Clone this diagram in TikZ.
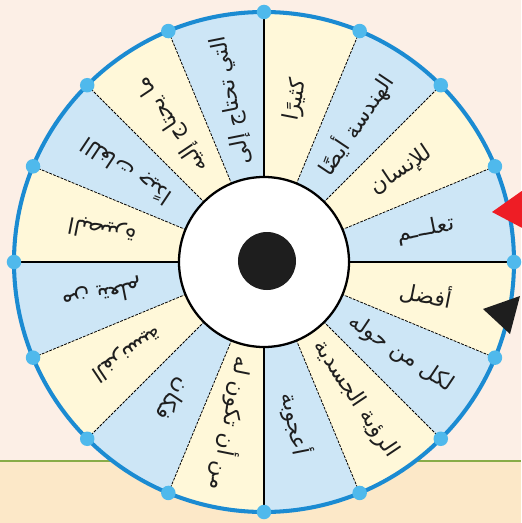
\documentclass[tikz,border=0pt]{standalone}
\usepackage{fontspec}
\newfontfamily\arabicfont[Script=Arabic]{DejaVu Sans}
\TeXXeTstate=1
\usetikzlibrary{positioning}
\definecolor{wBlue}{HTML}{CDE6F6}
\definecolor{wCream}{HTML}{FFF8D9}
\definecolor{wRim}{HTML}{1B8BD2}
\definecolor{wDot}{HTML}{4FB9EC}
\definecolor{bgPeach}{HTML}{FCEFE6}
\definecolor{bgSand}{HTML}{FCE8C8}
\definecolor{bgGreen}{HTML}{88AC48}
\definecolor{pRed}{HTML}{EE1D25}
\definecolor{pInk}{HTML}{1E1E1E}
\newcommand{\arwrd}[1]{\beginR #1\endR}
\tikzset{
  word/.style={font=\arabicfont\fontsize{12.5}{14}\selectfont, inner sep=0pt, text=pInk},
  spoke/.style={black, line width=1.3pt},
  divider/.style={black, line width=0.45pt, dash pattern=on 1.6pt off 0.7pt},
  rimdot/.style={circle, fill=wDot, inner sep=0pt, minimum size=2.9mm},
}

\begin{document}
\begin{tikzpicture}[x=0.2mm, y=0.2mm]
  % background
  \useasboundingbox (-264,-261) rectangle (257,262);
  \fill[bgPeach] (-264,-261) rectangle (257,262);
  \fill[bgSand] (-264,-261) rectangle (257,-199);
  \coordinate (gl) at (-264,-199);
  \coordinate (gr) at (257,-199);
  \draw[bgGreen, line width=1.5pt] (gl) -- (gr);

  % sectors
  \foreach \i in {0,...,15}{
    \pgfmathsetmacro\a{22.5*\i}
    \pgfmathsetmacro\b{22.5*(\i+1)}
    \ifodd\i \def\c{wCream}\else \def\c{wBlue}\fi
    \fill[\c] (0,0) -- (\a:250) arc[start angle=\a, end angle=\b, radius=250] -- cycle;
  }

  % dividers
  \foreach \i in {0,...,15}{
    \pgfmathsetmacro\a{22.5*\i}
    \pgfmathtruncatemacro\q{mod(\i,4)}
    \ifnum\q=0
      \draw[spoke] (\a:80) -- (\a:250);
    \else
      \draw[divider] (\a:80) -- (\a:250);
    \fi
  }

  % words
  \foreach \i/\w in {0/تعلـــم, 1/للإنسان, 2/الهندسة أيضًا, 3/كثيرًا,
      4/التي تحتاج إلى, 5/ما يحتاج إليه, 6/اللغات جيدًا, 7/البصيرة,
      8/من يتعلم, 9/الفرنسية, 10/فكان, 11/من أن تكون له,
      12/أعجوبة, 13/الرؤية الجسدية, 14/لكل من حوله, 15/أفضل}{
    \pgfmathsetmacro\m{22.5*\i+11.25}
    \node[word, rotate=\m] (w\i) at (\m:165) {\arwrd{\w}};
  }

  % rim
  \draw[wRim, line width=2.3pt] (0,0) circle[radius=250];
  \foreach \i in {0,...,15}{
    \node[rimdot] (d\i) at (22.5*\i:250) {};
  }

  % hub
  \node[circle, draw=black, line width=1.3pt, fill=white, minimum size=34mm, inner sep=0pt] (hub) at (0,0) {};
  \node[circle, fill=pInk, minimum size=11.6mm, inner sep=0pt] (pin) at (3,1) {};

  % pointers
  \fill[pRed] (228,50) -- (262,74) -- (262,32) -- cycle;
  \fill[pInk] (219,-47) -- (256,-34) -- (246,-72) -- cycle;
\end{tikzpicture}
\end{document}
